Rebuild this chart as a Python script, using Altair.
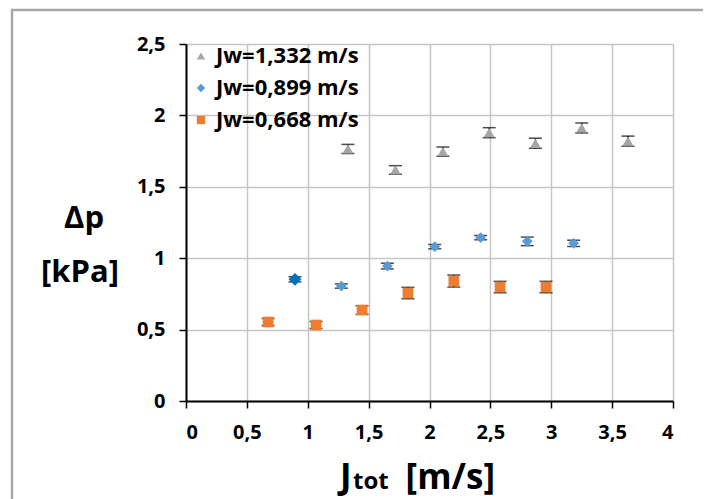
import altair as alt
import pandas as pd

# Data
series_names = ["Jw=1,332 m/s", "Jw=0,899 m/s", "Jw=0,668 m/s"]

x_tri = [1.33, 1.72, 2.11, 2.49, 2.87, 3.25, 3.63]
y_tri = [1.765, 1.618, 1.746, 1.879, 1.805, 1.912, 1.820]
e_tri = [0.032, 0.030, 0.032, 0.035, 0.035, 0.035, 0.035]

x_dia = [0.895, 1.276, 1.654, 2.043, 2.42, 2.803, 3.184]
y_dia = [0.852, 0.805, 0.945, 1.081, 1.144, 1.118, 1.104]
e_dia = [0.018, 0.015, 0.02, 0.015, 0.015, 0.03, 0.022]

x_sq = [0.674, 1.068, 1.446, 1.823, 2.20, 2.58, 2.957]
y_sq = [0.553, 0.532, 0.637, 0.756, 0.840, 0.798, 0.798]
e_sq = [0.025, 0.025, 0.03, 0.04, 0.042, 0.04, 0.04]

x_ticks = [0, 0.5, 1, 1.5, 2, 2.5, 3, 3.5, 4]
y_ticks = [0, 0.5, 1, 1.5, 2, 2.5]

colors = ["#a5a5a5", "#5b9bd5", "#ed7d31"]
shapes = ["triangle-up", "diamond", "square"]

rows = []
for name, xs, ys, es in zip(series_names, [x_tri, x_dia, x_sq], [y_tri, y_dia, y_sq], [e_tri, e_dia, e_sq]):
    for xv, yv, ev in zip(xs, ys, es):
        rows.append({"series": name, "x": xv, "y": yv, "lo": yv - ev, "hi": yv + ev})
df = pd.DataFrame(rows)

FONT = "Open Sans"
W, H = 487, 357

xscale = alt.Scale(domain=[0, 4], nice=False, zero=False)
yscale = alt.Scale(domain=[0, 2.5], nice=False, zero=False)
comma = "replace(format(datum.value, ''), '.', ',')"

xaxis = alt.Axis(values=x_ticks, labelExpr=comma, title=None, grid=True,
                 gridColor="#c6c6c6", gridWidth=1.5, domainColor="black", domainWidth=2,
                 tickColor="black", tickWidth=1.5, tickSize=7, labelFont=FONT,
                 labelFontSize=20, labelFontWeight="bold", labelColor="black", labelPadding=14)
yaxis = alt.Axis(values=y_ticks, labelExpr=comma, title=None, grid=True,
                 gridColor="#c6c6c6", gridWidth=1.5, domainColor="black", domainWidth=2,
                 tickColor="black", tickWidth=1.5, tickSize=7, labelFont=FONT,
                 labelFontSize=20, labelFontWeight="bold", labelColor="black", labelPadding=14)

base = alt.Chart(df)

rules = base.mark_rule(color="black", strokeWidth=1.3).encode(
    x=alt.X("x:Q", scale=xscale, axis=xaxis),
    y=alt.Y("lo:Q", scale=yscale, axis=yaxis),
    y2="hi:Q",
)
cap_lo = base.mark_tick(color="black", thickness=1.5, size=13, orient="horizontal").encode(
    x="x:Q", y="lo:Q")
cap_hi = base.mark_tick(color="black", thickness=1.5, size=13, orient="horizontal").encode(
    x="x:Q", y="hi:Q")

points = base.mark_point(filled=True, opacity=1, size=115).encode(
    x="x:Q",
    y="y:Q",
    color=alt.Color("series:N", scale=alt.Scale(domain=series_names, range=colors),
                    legend=alt.Legend(title=None, orient="none", legendX=4, legendY=1,
                                      labelFont=FONT, labelFontSize=22, labelFontWeight="bold",
                                      labelColor="black", symbolSize=70, rowPadding=10,
                                      labelOffset=4)),
    shape=alt.Shape("series:N", scale=alt.Scale(domain=series_names, range=shapes)),
)

dark = alt.Chart(pd.DataFrame({"x": [x_dia[0]], "y": [y_dia[0]]})).mark_point(
    filled=True, opacity=1, size=165, shape="diamond", color="#0070c0").encode(x="x:Q", y="y:Q")

one = pd.DataFrame({"a": [0]})
border = alt.Chart(one).mark_rect(fill=None, stroke="#a8a8a8", strokeWidth=2.5).encode(
    x=alt.value(-174), x2=alt.value(W + 60), y=alt.value(-34), y2=alt.value(H + 120))

def txt(text, x, y, size, align="left"):
    return alt.Chart(one).mark_text(text=text, font=FONT, fontSize=size, fontWeight="bold",
                                    color="black", align=align, baseline="alphabetic").encode(
        x=alt.value(x), y=alt.value(y))

titles = (txt("Δp", -102, 184, 31, "center") + txt("[kPa]", -106, 238, 31, "center")
          + txt("J", 154, 445, 35) + txt("tot", 167, 445, 24) + txt("[m/s]", 309, 445, 35, "right"))

chart = alt.layer(border, rules, cap_lo, cap_hi, points, dark, titles).properties(
    width=W, height=H,
    autosize=alt.AutoSizeParams(type="none"),
    padding={"left": 178, "top": 36, "right": 30, "bottom": 120},
).configure_view(stroke=None).configure(background="white")

chart.save("out.html", embed_options={"renderer": "svg", "actions": False})
